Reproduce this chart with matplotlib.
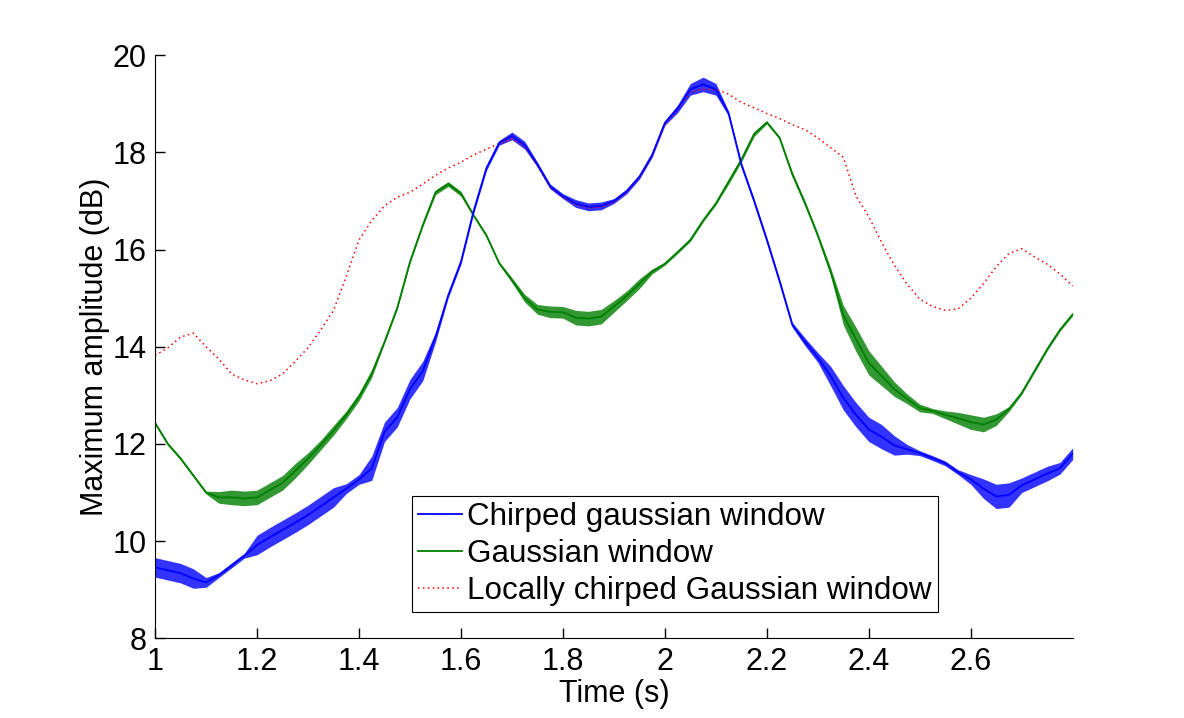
import numpy as np
from matplotlib import pyplot as plt

plt.rcParams["font.family"] = ["Liberation Sans", "DejaVu Sans"]

# time axis (s), one sample every 0.025 s
t = np.round(np.arange(1.0, 2.8001, 0.025), 3)

chirped = [
    9.46, 9.40, 9.34, 9.23, 9.15, 9.30, 9.50, 9.70, 9.92, 10.08,
    10.23, 10.38, 10.54, 10.72, 10.90, 11.08, 11.27, 11.50, 12.25, 12.55,
    13.13, 13.50, 14.20, 15.06, 15.75, 16.80, 17.68, 18.20, 18.34, 18.15,
    17.75, 17.30, 17.10, 16.95, 16.88, 16.90, 17.00, 17.20, 17.50, 17.95,
    18.61, 18.90, 19.30, 19.40, 19.30, 18.80, 17.75, 17.00, 16.20, 15.35,
    14.45, 14.10, 13.78, 13.40, 12.95, 12.60, 12.30, 12.15, 11.97, 11.89,
    11.81, 11.71, 11.60, 11.42, 11.27, 11.08, 10.92, 10.95, 11.15, 11.27,
    11.39, 11.50, 11.80,
]
chirped_ripple = [
    0.20, 0.20, 0.20, 0.20, 0.10, 0.05, 0.05, 0.05, 0.20, 0.20,
    0.20, 0.20, 0.20, 0.20, 0.20, 0.10, 0.10, 0.25, 0.20, 0.20,
    0.20, 0.20, 0.10, 0.05, 0.05, 0.05, 0.05, 0.05, 0.08, 0.08,
    0.05, 0.05, 0.05, 0.08, 0.08, 0.08, 0.05, 0.05, 0.05, 0.05,
    0.05, 0.08, 0.12, 0.15, 0.12, 0.05, 0.05, 0.05, 0.05, 0.05,
    0.05, 0.08, 0.10, 0.20, 0.25, 0.25, 0.25, 0.25, 0.20, 0.10,
    0.05, 0.05, 0.05, 0.05, 0.10, 0.20, 0.25, 0.25, 0.15, 0.15,
    0.15, 0.12, 0.12,
]

gaussian = [
    12.43, 12.00, 11.70, 11.35, 11.00, 10.90, 10.90, 10.88, 10.90, 11.05,
    11.20, 11.45, 11.70, 11.98, 12.28, 12.60, 12.97, 13.45, 14.10, 14.80,
    15.75, 16.50, 17.18, 17.35, 17.15, 16.70, 16.29, 15.72, 15.37, 15.00,
    14.77, 14.72, 14.71, 14.60, 14.58, 14.62, 14.83, 15.05, 15.30, 15.55,
    15.71, 15.95, 16.20, 16.60, 16.95, 17.40, 17.85, 18.38, 18.62, 18.30,
    17.55, 16.95, 16.29, 15.55, 14.65, 14.15, 13.67, 13.40, 13.13, 12.93,
    12.74, 12.68, 12.60, 12.53, 12.45, 12.40, 12.50, 12.72, 13.05, 13.50,
    13.95, 14.35, 14.67,
]
gaussian_ripple = [
    0.03, 0.03, 0.03, 0.03, 0.03, 0.12, 0.15, 0.15, 0.15, 0.15,
    0.15, 0.15, 0.12, 0.10, 0.10, 0.08, 0.08, 0.08, 0.03, 0.03,
    0.03, 0.03, 0.05, 0.05, 0.05, 0.03, 0.03, 0.03, 0.05, 0.08,
    0.10, 0.12, 0.12, 0.15, 0.15, 0.15, 0.12, 0.10, 0.10, 0.05,
    0.03, 0.03, 0.03, 0.03, 0.03, 0.05, 0.05, 0.05, 0.03, 0.03,
    0.05, 0.05, 0.05, 0.08, 0.20, 0.25, 0.25, 0.20, 0.15, 0.10,
    0.08, 0.05, 0.08, 0.12, 0.15, 0.15, 0.12, 0.05, 0.03, 0.03,
    0.03, 0.03, 0.03,
]

local_chirped = [
    13.82, 13.98, 14.20, 14.28, 14.00, 13.75, 13.44, 13.32, 13.24, 13.30,
    13.44, 13.70, 13.98, 14.35, 14.75, 15.45, 16.20, 16.60, 16.90, 17.08,
    17.18, 17.35, 17.53, 17.68, 17.80, 17.95, 18.07, 18.18, 18.28, 18.12,
    17.72, 17.28, 17.08, 16.93, 16.86, 16.88, 16.98, 17.18, 17.48, 17.93,
    18.58, 18.88, 19.25, 19.30, 19.30, 19.20, 19.03, 18.92, 18.80, 18.70,
    18.57, 18.47, 18.30, 18.10, 17.90, 17.10, 16.68, 16.15, 15.68, 15.29,
    14.98, 14.83, 14.75, 14.78, 15.00, 15.30, 15.65, 15.92, 16.02, 15.85,
    15.70, 15.50, 15.25,
]

labels = ["Chirped gaussian window", "Gaussian window", "Locally chirped Gaussian window"]

fig = plt.figure(figsize=(11.84, 7.18), dpi=100)
ax = fig.add_axes([0.131, 0.111, 0.775, 0.812])

c = np.array(chirped)
g = np.array(gaussian)
ax.fill_between(t, c - np.array(chirped_ripple), c + np.array(chirped_ripple),
                color="#0000ff", lw=0, alpha=0.8)
ax.fill_between(t, g - np.array(gaussian_ripple), g + np.array(gaussian_ripple),
                color="#007f00", lw=0, alpha=0.8)
ax.plot(t, local_chirped, color="#ff0000", lw=1.1, linestyle=(0, (1, 2.2)), label=labels[2])
ax.plot(t, gaussian, color="#007f00", lw=1.3, label=labels[1])
ax.plot(t, chirped, color="#0000ff", lw=1.3, label=labels[0])

ax.set_xlim(1, 2.8)
ax.set_ylim(8, 20)
ax.set_xticks([1, 1.2, 1.4, 1.6, 1.8, 2, 2.2, 2.4, 2.6])
ax.set_xticklabels(["1", "1.2", "1.4", "1.6", "1.8", "2", "2.2", "2.4", "2.6"])
ax.set_yticks([8, 10, 12, 14, 16, 18, 20])
ax.tick_params(direction="in", length=7, width=1, labelsize=22, pad=6)
ax.spines["top"].set_visible(False)
ax.spines["right"].set_visible(False)
ax.set_xlabel("Time (s)", fontsize=22, labelpad=2)
ax.set_ylabel("Maximum amplitude (dB)", fontsize=22, labelpad=2)

handles, labs = ax.get_legend_handles_labels()
order = [2, 1, 0]
leg = ax.legend([handles[i] for i in order], [labs[i] for i in order],
                loc="lower left", bbox_to_anchor=(0.28, 0.045), fontsize=22.6,
                fancybox=False, framealpha=1, edgecolor="black",
                handlelength=1.4, handletextpad=0.15, labelspacing=0.22,
                borderpad=0.2, borderaxespad=0)
leg.get_frame().set_linewidth(0.8)

fig.savefig("out.png", dpi=100)
